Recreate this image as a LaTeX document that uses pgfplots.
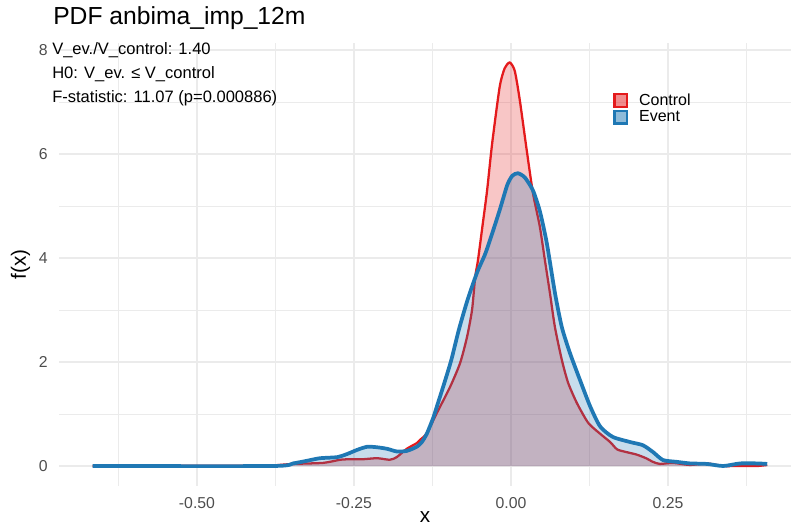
\documentclass[border=0pt]{standalone}
\usepackage{fontspec}
\setmainfont{Liberation Sans}
\usepackage{pgfplots}
\usepackage{pgfplotstable}
\pgfplotsset{compat=1.18}
\definecolor{ctrl}{HTML}{E41A1C}
\definecolor{evt}{HTML}{1F78B4}
\definecolor{gridc}{HTML}{EBEBEB}
\definecolor{tickc}{HTML}{4D4D4D}

\pgfplotstableread{
x y
-0.666 0
-0.60 0.004
-0.55 0.008
-0.50 0.003
-0.45 0.007
-0.416 0.004
-0.379 0.012
-0.347 0.04
-0.299 0.06
-0.272 0.12
-0.256 0.13
-0.236 0.13
-0.213 0.15
-0.193 0.12
-0.182 0.17
-0.166 0.33
-0.150 0.44
-0.145 0.50
-0.134 0.63
-0.118 1.02
-0.097 1.52
-0.081 1.98
-0.070 2.48
-0.062 3.0
-0.057 3.63
-0.0525 3.96
-0.045 4.65
-0.038 5.3
-0.030 6.2
-0.018 7.29
-0.010 7.65
-0.002 7.76
0.006 7.6
0.014 7.04
0.025 6.08
0.035 5.25
0.046 4.6
0.054 3.96
0.062 3.33
0.070 2.67
0.081 2.04
0.091 1.6
0.105 1.21
0.123 0.83
0.142 0.62
0.158 0.46
0.169 0.32
0.183 0.27
0.200 0.22
0.215 0.15
0.226 0.08
0.237 0.04
0.258 0.06
0.285 0.02
0.312 0.05
0.338 0.0
0.365 0.0
0.392 0.0
0.408 0.02
}\ctrltab

\pgfplotstableread{
x y
-0.666 0
-0.38 0.0
-0.347 0.05
-0.325 0.10
-0.304 0.15
-0.277 0.17
-0.261 0.23
-0.245 0.31
-0.229 0.37
-0.213 0.36
-0.197 0.33
-0.182 0.28
-0.166 0.29
-0.150 0.37
-0.142 0.46
-0.134 0.62
-0.124 0.92
-0.116 1.22
-0.106 1.60
-0.095 2.04
-0.083 2.62
-0.069 3.20
-0.054 3.72
-0.041 4.08
-0.030 4.47
-0.018 4.92
-0.006 5.4
0.002 5.58
0.011 5.63
0.022 5.55
0.035 5.3
0.046 4.9
0.057 4.29
0.070 3.33
0.081 2.67
0.094 2.17
0.110 1.65
0.126 1.15
0.142 0.76
0.162 0.56
0.190 0.46
0.210 0.40
0.226 0.27
0.242 0.115
0.264 0.08
0.285 0.05
0.312 0.04
0.338 0.0
0.365 0.05
0.392 0.05
0.408 0.04
}\evttab

\begin{document}
\begin{tikzpicture}
\useasboundingbox (-44.25pt,-31.5pt) rectangle (549pt,364.5pt);
\begin{axis}[
  at={(0pt,0pt)}, anchor=south west,
  scale only axis, width=549pt, height=332.25pt,
  xmin=-0.7197, xmax=0.4459, ymin=-0.3846, ymax=8.1346,
  axis line style={draw=none},
  major tick length=0pt, minor tick length=0pt,
  xtick={-0.5,-0.25,0,0.25},
  xticklabels={-0.50,-0.25,0.00,0.25},
  minor xtick={-0.625,-0.375,-0.125,0.125,0.375},
  ytick={0,2,4,6,8},
  yticklabels={0,2,4,6,8},
  minor ytick={1,3,5,7},
  grid=both,
  major grid style={draw=gridc, line width=0.85pt},
  minor grid style={draw=gridc, line width=0.45pt},
  tick label style={font=\fontsize{11.85}{13}\selectfont, text=tickc, inner sep=0pt},
  xticklabel style={anchor=north, yshift=-8.25pt},
  yticklabel style={anchor=east, xshift=-8.25pt},
  xlabel={x},
  ylabel={f(x)},
  label style={font=\fontsize{15.5}{17}\selectfont},
  xlabel style={at={(axis description cs:0.5,-0.0813)}, anchor=base, inner sep=0pt},
  ylabel style={at={(axis description cs:-0.0451,0.5)}, anchor=base, inner sep=0pt},
  legend image code/.code={\draw[#1] (0pt,-4.6pt) rectangle (9.2pt,4.6pt);},
  legend cell align=left,
  legend style={at={(rel axis cs:0.757,0.889)}, anchor=north west, draw=none, fill=none,
    font=\fontsize{12}{13}\selectfont, inner sep=0pt, row sep=0.6pt,
    nodes={inner sep=1pt},
    /tikz/every odd column/.append style={column sep=7.5pt}},
]
\addlegendimage{draw=ctrl, fill=ctrl, fill opacity=0.5, line width=1.6pt}
\addlegendentry{Control}
\addlegendimage{draw=evt, fill=evt, fill opacity=0.5, line width=1.6pt}
\addlegendentry{Event}
\addplot[draw=none, fill=ctrl, fill opacity=0.25, forget plot] table[x=x,y=y] {\ctrltab} \closedcycle;
\addplot[ctrl, line width=1.7pt, smooth, tension=0.4, forget plot] table[x=x,y=y] {\ctrltab};
\addplot[draw=none, fill=evt, fill opacity=0.25, forget plot] table[x=x,y=y] {\evttab} \closedcycle;
\addplot[evt, line width=2.8pt, smooth, tension=0.4, forget plot] table[x=x,y=y] {\evttab};
\end{axis}
\node[anchor=base west, inner sep=0pt, font=\fontsize{18.5}{20}\selectfont] at (-4.5pt,345.75pt) {PDF anbima\_imp\_12m};
\node[anchor=base west, inner sep=0pt, font=\fontsize{12.4}{14}\selectfont] at (-5.25pt,323.25pt) {V\_ev./V\_control: 1.40};
\node[anchor=base west, inner sep=0pt, font=\fontsize{12.4}{14}\selectfont] at (-5.25pt,305.25pt) {H0: V\_ev. ≤ V\_control};
\node[anchor=base west, inner sep=0pt, font=\fontsize{12.4}{14}\selectfont] at (-5.25pt,287.25pt) {F-statistic: 11.07 (p=0.000886)};
\end{tikzpicture}
\end{document}
